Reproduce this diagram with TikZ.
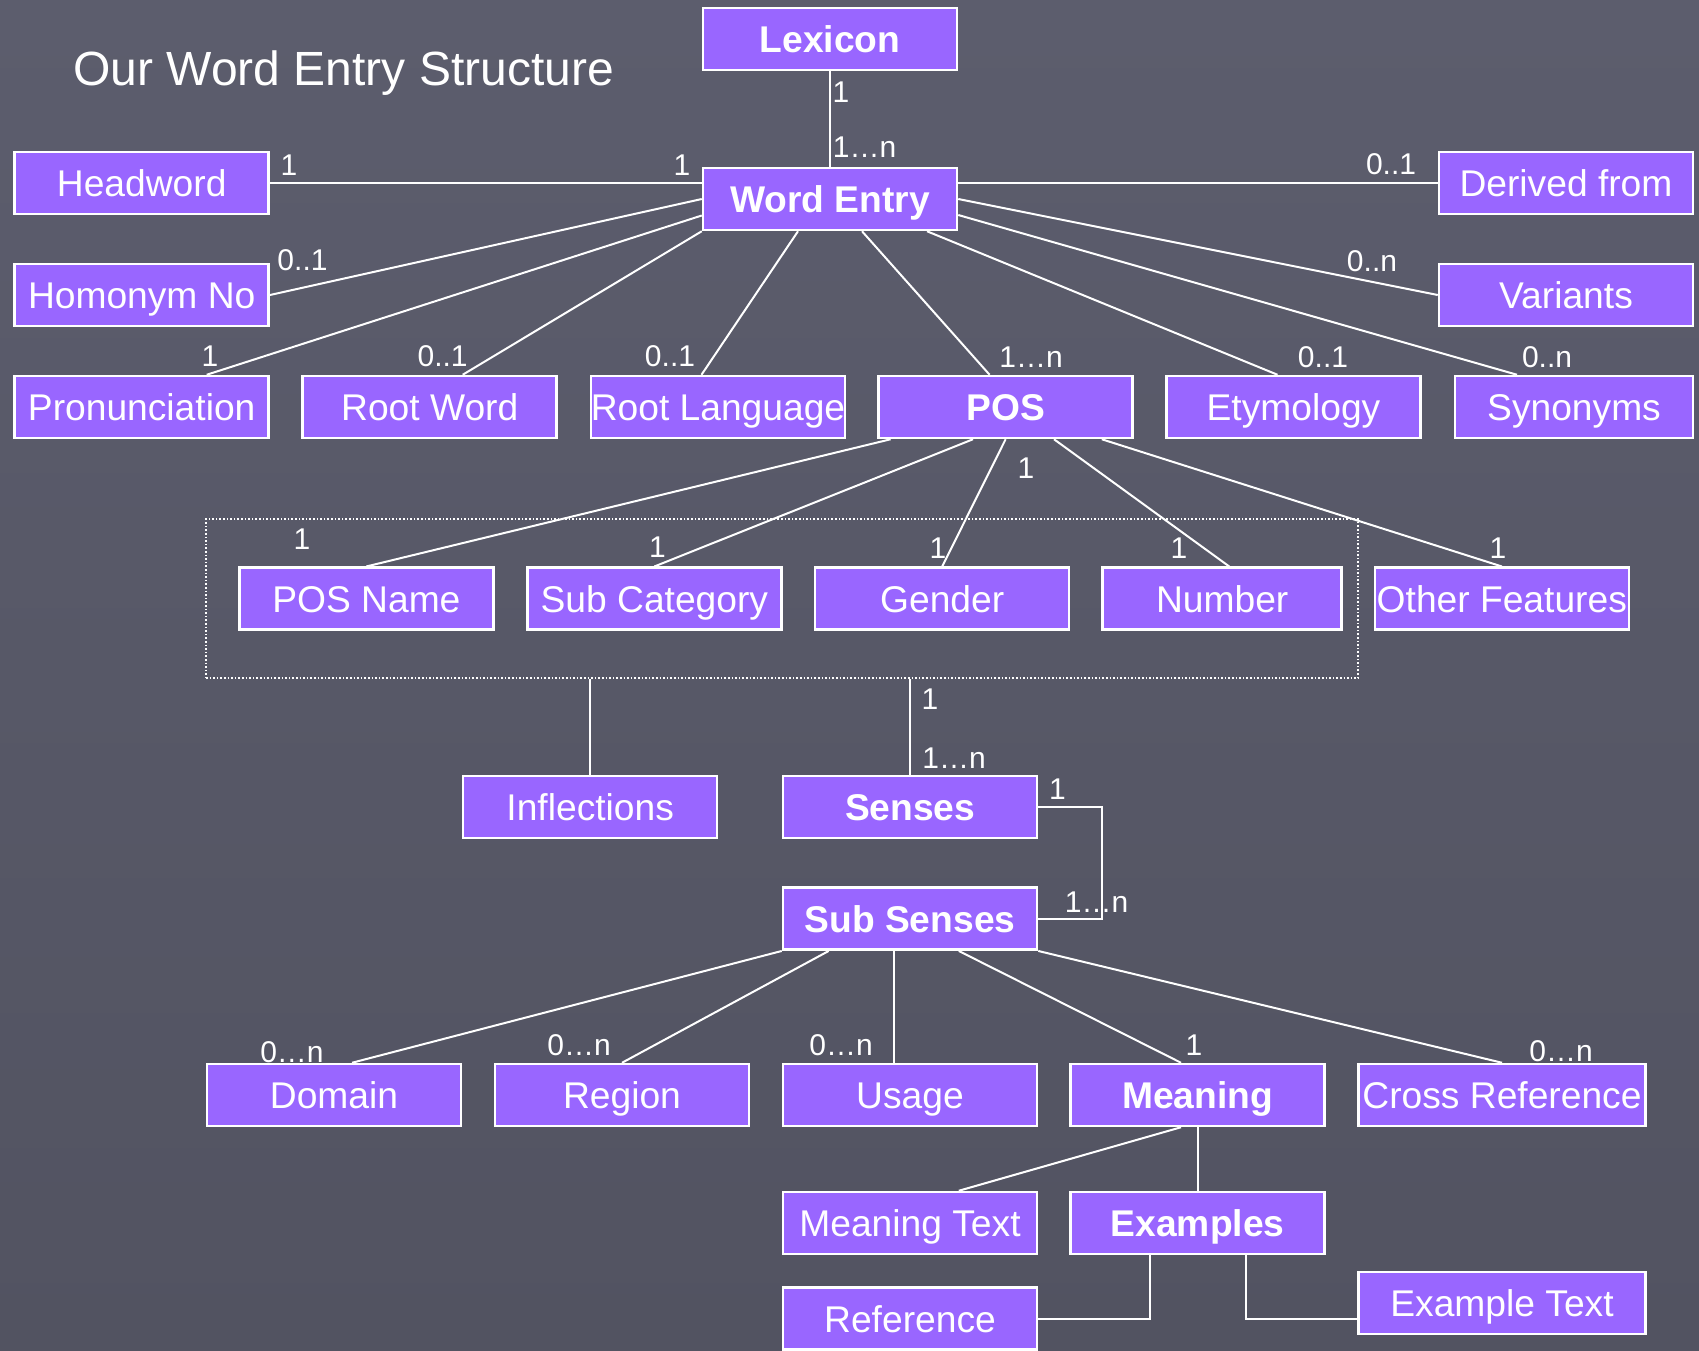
\documentclass[tikz,border=0pt]{standalone}
\usepackage{fontspec}
\setmainfont{Liberation Sans}
\usetikzlibrary{calc}
\definecolor{bgtop}{RGB}{92,93,109}
\definecolor{bgbot}{RGB}{82,83,97}
\definecolor{boxfill}{RGB}{153,102,255}
\tikzset{
  ent/.style={draw=white, line width=2.5pt, fill=boxfill, text=white,
    minimum height=62pt, minimum width=254pt, inner sep=0pt,
    text height=26.6pt, text depth=0pt, font=\fontsize{37.2}{40}\selectfont},
  entb/.style={ent, font=\fontsize{37.2}{40}\selectfont\bfseries},
  lbl/.style={text=white, inner sep=0pt, font=\fontsize{30}{32}\selectfont},
  conn/.style={draw=white, line width=2pt},
  grpbox/.style={draw=white, dotted, line width=1.6pt, minimum width=1152pt,
    minimum height=159pt, inner sep=0pt},
}
\begin{document}
\begin{tikzpicture}[x=1pt,y=-1pt]
\shade[top color=bgtop, bottom color=bgbot] (0,0) rectangle (1699,1350);
\useasboundingbox (0,0) rectangle (1699,1350);

\node[anchor=base west, text=white, inner sep=0pt, font=\fontsize{48}{52}\selectfont] (title) at (73,85) {Our Word Entry Structure};

% boxes
\node[entb] (lex) at (830,39) {Lexicon};
\node[entb] (we) at (830,199) {Word Entry};
\node[ent] (hw) at (141.7,183) {Headword};
\node[ent] (df) at (1566,183) {Derived from};
\node[ent] (hn) at (141.7,295) {Homonym No};
\node[ent] (var) at (1566,295) {Variants};
\node[ent] (pron) at (141.7,407) {Pronunciation};
\node[ent] (rw) at (429.7,407) {Root Word};
\node[ent] (rl) at (718,407) {Root Language};
\node[entb] (pos) at (1005.6,407) {POS};
\node[ent] (ety) at (1293.5,407) {Etymology};
\node[ent, minimum width=238pt] (syn) at (1574,407) {Synonyms};

\node[grpbox] (grp) at (782,598.7) {};
\node[ent] (posn) at (366.4,598.7) {POS Name};
\node[ent] (subcat) at (654.4,598.7) {Sub Category};
\node[ent] (gen) at (942.2,598.7) {Gender};
\node[ent, minimum width=239pt] (num) at (1222.2,598.7) {Number};
\node[ent] (oth) at (1501.8,598.7) {Other Features};

\node[ent] (infl) at (590.2,807) {Inflections};
\node[entb] (sen) at (910.2,807) {Senses};
\node[entb] (subsen) at (910,918.7) {Sub Senses};

\node[ent] (dom) at (334,1095) {Domain};
\node[ent] (reg) at (622,1095) {Region};
\node[ent] (use) at (910,1095) {Usage};
\node[entb] (mea) at (1197.6,1095) {Meaning};
\node[ent, minimum width=287pt] (cross) at (1502,1095) {Cross Reference};

\node[ent] (mtext) at (910,1223) {Meaning Text};
\node[entb] (exa) at (1197.6,1223) {Examples};
\node[ent] (ref) at (910,1318.7) {Reference};
\node[ent, minimum width=287pt] (ext) at (1502,1303) {Example Text};

% connectors
\draw[conn] (lex.south) -- (we.north);
\draw[conn] (hw.east) -- (hw.east -| we.west);
\draw[conn] (df.west -| we.east) -- (df.west);
\draw[conn] (we.west) -- (hn.east);
\draw[conn] (we.east) -- (var.west);
\draw[conn] ($(we.west)+(0,16.5)$) -- ($(pron.north)+(65,0)$);
\draw[conn] (we.south west) -- ($(rw.north)+(33,0)$);
\draw[conn] ($(we.south)+(-32,0)$) -- ($(rl.north)+(-16.5,0)$);
\draw[conn] ($(we.south)+(32,0)$) -- ($(pos.north)+(-16,0)$);
\draw[conn] ($(we.south)+(97,0)$) -- ($(ety.north)+(-16,0)$);
\draw[conn] ($(we.east)+(0,16)$) -- ($(syn.north)+(-57,0)$);

\draw[conn] ($(pos.south)+(-115,0)$) -- (posn.north);
\draw[conn] ($(pos.south)+(-32.6,0)$) -- (subcat.north);
\draw[conn] (pos.south) -- (gen.north);
\draw[conn] ($(pos.south)+(48.4,0)$) -- ($(num.north)+(7,0)$);
\draw[conn] ($(pos.south)+(96.2,0)$) -- (oth.north);

\draw[conn] (infl.north |- grp.south) -- (infl.north);
\draw[conn] (sen.north |- grp.south) -- (sen.north);
\draw[conn] (sen.east) -- ($(sen.east)+(63.4,0)$) |- (subsen.east);

\draw[conn] (subsen.south west) -- ($(dom.north)+(18,0)$);
\draw[conn] ($(subsen.south)+(-81.3,0)$) -- (reg.north);
\draw[conn] ($(subsen.south)+(-16,0)$) -- ($(use.north)+(-16,0)$);
\draw[conn] ($(subsen.south)+(48.8,0)$) -- ($(mea.north)+(-16.6,0)$);
\draw[conn] (subsen.south east) -- (cross.north);

\draw[conn] ($(mea.south)+(-16.6,0)$) -- ($(mtext.north)+(48.8,0)$);
\draw[conn] (mea.south) -- (exa.north);
\draw[conn] ($(exa.south)+(-47.6,0)$) |- (ref.east);
\draw[conn] ($(exa.south)+(48,0)$) |- (ref.east -| ext.west);

% multiplicity labels
\node[lbl] (m1) at (841,91.7) {1};
\node[lbl] (m2) at (864.5,147.5) {1…n};
\node[lbl] (m3) at (289,165.5) {1};
\node[lbl] (m4) at (682,165.5) {1};
\node[lbl] (m5) at (1391,164) {0..1};
\node[lbl] (m6) at (302.5,260) {0..1};
\node[lbl] (m7) at (1372,261) {0..n};
\node[lbl] (m8) at (210,356) {1};
\node[lbl] (m9) at (442.6,356) {0..1};
\node[lbl] (m10) at (670,356) {0..1};
\node[lbl] (m11) at (1031,357) {1…n};
\node[lbl] (m12) at (1323,357) {0..1};
\node[lbl] (m13) at (1547,357) {0..n};
\node[lbl] (m14) at (302,539) {1};
\node[lbl] (m15) at (657.5,547) {1};
\node[lbl] (m16) at (1026,468) {1};
\node[lbl] (m17) at (938,548) {1};
\node[lbl] (m18) at (1179,548) {1};
\node[lbl] (m19) at (1498,548) {1};
\node[lbl] (m20) at (930,699) {1};
\node[lbl] (m21) at (954,757.7) {1…n};
\node[lbl] (m22) at (1057.5,789) {1};
\node[lbl] (m23) at (1096.6,901.7) {1…n};
\node[lbl] (m24) at (292,1052) {0…n};
\node[lbl] (m25) at (579,1045) {0…n};
\node[lbl] (m26) at (841,1045) {0…n};
\node[lbl] (m27) at (1194,1045) {1};
\node[lbl] (m28) at (1561,1051) {0…n};
\end{tikzpicture}
\end{document}
